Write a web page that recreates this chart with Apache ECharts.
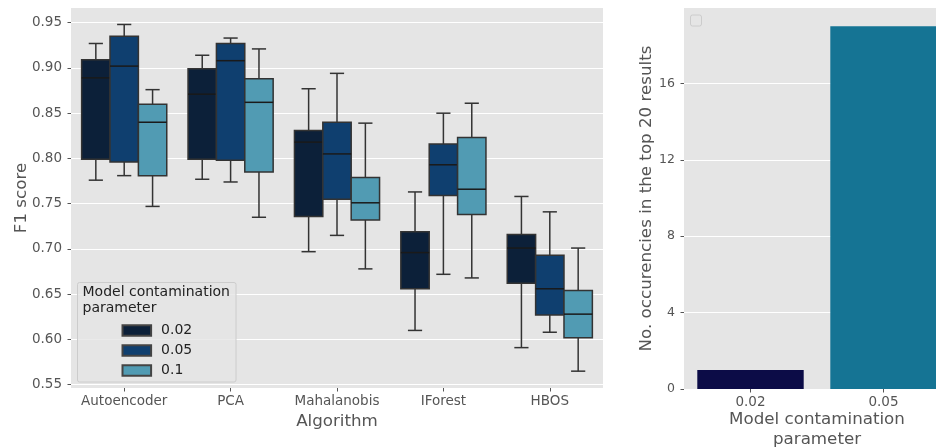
<!DOCTYPE html>
<html>
<head>
<meta charset="utf-8">
<script src="https://cdn.jsdelivr.net/npm/echarts@6/dist/echarts.min.js"></script>
<style>
html, body { margin: 0; padding: 0; background: #fff; }
#chart { width: 936px; height: 448px; }
</style>
</head>
<body>
<div id="chart"></div>
<script>
// 左图: 箱线图 [min, Q1, median, Q3, max]
var algorithms = ['Autoencoder', 'PCA', 'Mahalanobis', 'IForest', 'HBOS'];
var hueNames = ['0.02', '0.05', '0.1'];
var box002 = [
	[0.776, 0.799, 0.889, 0.909, 0.927],
	[0.777, 0.799, 0.871, 0.899, 0.914],
	[0.697, 0.736, 0.818, 0.831, 0.877],
	[0.610, 0.656, 0.696, 0.719, 0.763],
	[0.591, 0.662, 0.701, 0.716, 0.758]
];
var box005 = [
	[0.781, 0.796, 0.902, 0.935, 0.948],
	[0.774, 0.798, 0.908, 0.927, 0.933],
	[0.715, 0.755, 0.805, 0.840, 0.894],
	[0.672, 0.759, 0.793, 0.816, 0.850],
	[0.608, 0.627, 0.656, 0.693, 0.741]
];
var box01 = [
	[0.747, 0.781, 0.840, 0.860, 0.876],
	[0.735, 0.785, 0.862, 0.888, 0.921],
	[0.678, 0.732, 0.751, 0.779, 0.839],
	[0.668, 0.738, 0.766, 0.823, 0.861],
	[0.565, 0.602, 0.628, 0.654, 0.701]
];
var leftTicks = [0.55, 0.60, 0.65, 0.70, 0.75, 0.80, 0.85, 0.90, 0.95];

// 右图: 出现次数
var barCats = ['0.02', '0.05'];
var barValues = [1, 19];
var rightTicks = [0, 4, 8, 12, 16];

var boxColors = ['#0c2039', '#0f3f6f', '#519bb3'];
var barColors = ['#0c0c47', '#157494'];
var edgeColor = '#333333';
var labelColor = '#555555';
var font = 'DejaVu Sans';

var dom = document.getElementById('chart');
var myChart = echarts.init(dom);

function toRows(list) {
	var rows = [];
	for (var i = 0; i < list.length; i++) {
		rows.push([i].concat(list[i]));
	}
	return rows;
}

function renderBox(hueIdx) {
	return function (params, api) {
		var c = api.value(0);
		var band = api.size([1, 0])[0];
		var w = band * 0.8 / 3;
		var cx = api.coord([c, api.value(3)])[0] + (hueIdx - 1) * w;
		var yLow = api.coord([c, api.value(1)])[1];
		var yQ1 = api.coord([c, api.value(2)])[1];
		var yMed = api.coord([c, api.value(3)])[1];
		var yQ3 = api.coord([c, api.value(4)])[1];
		var yHigh = api.coord([c, api.value(5)])[1];
		var half = w / 2;
		var cap = w / 4;
		var lineStyle = { stroke: edgeColor, lineWidth: 1.5 };
		return {
			type: 'group',
			children: [
				{ type: 'line', shape: { x1: cx, y1: yQ3, x2: cx, y2: yHigh }, style: lineStyle },
				{ type: 'line', shape: { x1: cx, y1: yQ1, x2: cx, y2: yLow }, style: lineStyle },
				{ type: 'line', shape: { x1: cx - cap, y1: yHigh, x2: cx + cap, y2: yHigh }, style: lineStyle },
				{ type: 'line', shape: { x1: cx - cap, y1: yLow, x2: cx + cap, y2: yLow }, style: lineStyle },
				{
					type: 'rect',
					shape: { x: cx - half, y: yQ3, width: w, height: yQ1 - yQ3 },
					style: { fill: boxColors[hueIdx], stroke: edgeColor, lineWidth: 1.5 }
				},
				{ type: 'line', shape: { x1: cx - half, y1: yMed, x2: cx + half, y2: yMed }, style: { stroke: '#1a1a1a', lineWidth: 1.5 } }
			]
		};
	};
}

var boxLists = [box002, box005, box01];
var series = [];
for (var h = 0; h < 3; h++) {
	series.push({
		name: hueNames[h],
		type: 'custom',
		xAxisIndex: 0,
		yAxisIndex: 0,
		renderItem: renderBox(h),
		itemStyle: { color: boxColors[h], borderColor: '#444', borderWidth: 1 },
		encode: { x: 0, y: [1, 2, 3, 4, 5] },
		data: toRows(boxLists[h]),
		z: 3
	});
}

var barData = [];
for (var b = 0; b < barValues.length; b++) {
	barData.push({ value: barValues[b], itemStyle: { color: barColors[b] } });
}
series.push({
	type: 'bar',
	xAxisIndex: 1,
	yAxisIndex: 1,
	barWidth: '80%',
	data: barData
});

var nameStyle = { color: labelColor, fontSize: 16.7, fontFamily: font };

option = {
	animation: false,
	textStyle: { fontFamily: font },
	grid: [
		{ left: 71, right: 333, top: 8, bottom: 60, show: true, backgroundColor: '#e5e5e5', borderWidth: 0, outerBoundsMode: 'none', containLabel: false },
		{ left: 684, right: -14, top: 8, bottom: 59, show: true, backgroundColor: '#e5e5e5', borderWidth: 0, outerBoundsMode: 'none', containLabel: false }
	],
	legend: {
		data: hueNames,
		orient: 'vertical',
		left: 121.5,
		top: 323.5,
		padding: 0,
		itemWidth: 28.6,
		itemHeight: 10.7,
		itemGap: 6,
		icon: 'rect',
		selectedMode: false,
		textStyle: { color: '#222', fontSize: 14, fontFamily: font, padding: [0, 0, 0, 5] },
		z: 10
	},
	xAxis: [
		{
			type: 'category',
			gridIndex: 0,
			data: algorithms,
			name: 'Algorithm',
			nameLocation: 'middle',
			nameGap: 25.5,
			nameMoveOverlap: false,
			nameTextStyle: nameStyle,
			axisLine: { show: false },
			axisTick: { show: true, alignWithLabel: true, length: 3.5, lineStyle: { color: labelColor } },
			axisLabel: { color: labelColor, fontSize: 13.5, margin: 6, interval: 0 },
			splitLine: { show: false }
		},
		{
			type: 'category',
			gridIndex: 1,
			data: barCats,
			name: 'Model contamination\nparameter',
			nameLocation: 'middle',
			nameGap: 21,
			nameMoveOverlap: false,
			nameTextStyle: { color: labelColor, fontSize: 16.7, fontFamily: font, lineHeight: 20, verticalAlign: 'top' },
			axisLine: { show: false },
			axisTick: { show: true, alignWithLabel: true, length: 3.5, lineStyle: { color: labelColor } },
			axisLabel: { color: labelColor, fontSize: 13.5, margin: 6, interval: 0 },
			splitLine: { show: false }
		}
	],
	yAxis: [
		{
			type: 'value',
			gridIndex: 0,
			min: 0.5464,
			max: 0.9662,
			name: 'F1 score',
			nameLocation: 'middle',
			nameGap: 41,
			nameMoveOverlap: false,
			nameTextStyle: nameStyle,
			axisLine: { show: false },
			axisTick: { show: true, length: 3.5, lineStyle: { color: labelColor }, customValues: leftTicks },
			axisLabel: {
				color: labelColor, fontSize: 13.5, margin: 9, customValues: leftTicks,
				formatter: function (v) { return v.toFixed(2); }
			},
			splitLine: { show: true, lineStyle: { color: '#ffffff', width: 1 } }
		},
		{
			type: 'value',
			gridIndex: 1,
			min: 0,
			max: 19.95,
			name: 'No. occurencies in the top 20 results',
			nameLocation: 'middle',
			nameGap: 29,
			nameMoveOverlap: false,
			nameTextStyle: nameStyle,
			axisLine: { show: false },
			axisTick: { show: true, length: 3.5, lineStyle: { color: labelColor }, customValues: rightTicks },
			axisLabel: { color: labelColor, fontSize: 12.5, margin: 9, customValues: rightTicks },
			splitLine: { show: true, lineStyle: { color: '#ffffff', width: 1 } }
		}
	],
	graphic: [
		{
			type: 'rect',
			shape: { x: 77.5, y: 282.5, width: 158.5, height: 99.5, r: 2 },
			style: { fill: 'rgba(229,229,229,0.8)', stroke: '#cccccc', lineWidth: 1 },
			z: 5
		},
		{
			type: 'text',
			x: 82.5,
			y: 284.5,
			style: { text: 'Model contamination\nparameter', font: '14px "DejaVu Sans"', fill: '#222', lineHeight: 16, verticalAlign: 'top' },
			z: 6
		},
		{
			type: 'rect',
			shape: { x: 690.5, y: 15, width: 11, height: 11, r: 2 },
			style: { fill: 'rgba(229,229,229,0.8)', stroke: '#cccccc', lineWidth: 1 },
			z: 5
		}
	],
	series: series
};

myChart.setOption(option, true);
</script>
</body>
</html>
